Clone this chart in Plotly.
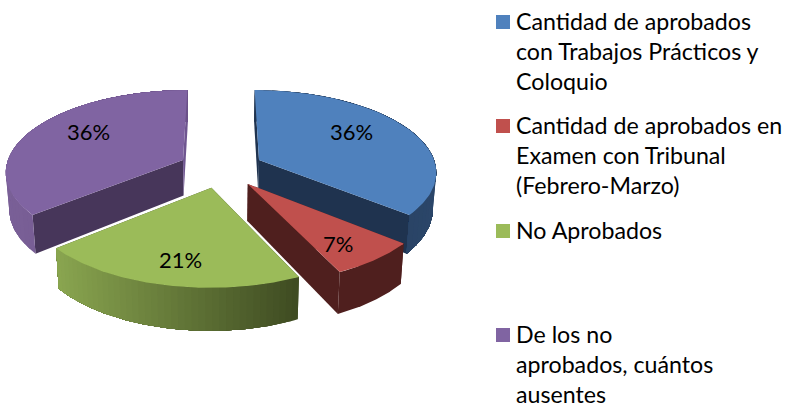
import numpy as np
import plotly.graph_objects as go

# data
categories = ["Cantidad de aprobados<br>con Trabajos Prácticos y<br>Coloquio",
              "Cantidad de aprobados en<br>Examen con Tribunal<br>(Febrero-Marzo)",
              "No Aprobados",
              "De los no<br>aprobados, cuántos<br>ausentes"]
values = [36, 7, 21, 36]
top_colors = ["#4F81BD", "#C0504D", "#9BBB59", "#8064A2"]
face_colors = ["#1F334F", "#4F1F1E", "#3F4C22", "#47365A"]

# projection settings (pixel space of the picture)
VX, VY, D, RAD, EXPL, H, Q, CY = 221.0, -448.0, 1346.0, 175.0, 42.0, 35.5, 0.016, 160.0
OFF_Y = 17.9  # pie centre sits slightly in front of the reference plane


def proj(X, Y, bottom=False):
    X, Y = np.asarray(X, float), np.asarray(Y, float)
    s = D / (D + Y)
    x = VX + X * s
    y = VY + (CY - VY) * s
    if bottom:
        x = VX + (x - VX) * (1 - Q)
        y = y + H * s
    return x, y


def hexmix(a, b, t):
    ca = [int(a[i:i + 2], 16) for i in (1, 3, 5)]
    cb = [int(b[i:i + 2], 16) for i in (1, 3, 5)]
    return "rgb(%d,%d,%d)" % tuple(round(p + (q - p) * t) for p, q in zip(ca, cb))


def poly(fig, x, y, color):
    fig.add_trace(go.Scatter(x=list(x), y=list(y), mode="lines", fill="toself",
                             fillcolor=color, line=dict(color=color, width=0),
                             hoverinfo="skip", showlegend=False))


fig = go.Figure()
fracs = np.cumsum([0] + values) / sum(values)
side_ramps = {0: ("#2B4669", "#1F334F"), 1: ("#4F1F1E", "#4F1F1E"),
              2: ("#3F4C22", "#8AA650"), 3: ("#6A5088", "#7A6097")}
order = [3, 0, 1, 2]
for i in order:
    a0, a1 = 2 * np.pi * fracs[i], 2 * np.pi * fracs[i + 1]
    mid = (a0 + a1) / 2
    ax, ay = EXPL * np.sin(mid), EXPL * np.cos(mid) - OFF_Y
    th = np.linspace(a0, a1, 121)
    ex, ey = ax + RAD * np.sin(th), ay + RAD * np.cos(th)

    # radial faces
    for k, idx in enumerate((0, -1)):
        tx, ty = proj([ax, ex[idx]], [ay, ey[idx]])
        bx, by = proj([ax, ex[idx]], [ay, ey[idx]], bottom=True)
        col = face_colors[i]
        if i == 3 and k == 1:
            col = "#6F5690"
        poly(fig, [tx[0], tx[1], bx[1], bx[0]], [ty[0], ty[1], by[1], by[0]], col)

    # outer wall: overlapping painter strips give a seamless gradient
    tx, ty = proj(ex, ey)
    bx, by = proj(ex, ey, bottom=True)
    xmin, xmax = tx.min(), tx.max()
    c_right, c_left = side_ramps[i]
    if c_right == c_left:
        poly(fig, np.r_[tx, bx[::-1]], np.r_[ty, by[::-1]], c_left)
    else:
        for j in range(0, len(th) - 1, 3):
            t = (tx[j] - xmin) / max(xmax - xmin, 1)
            poly(fig, np.r_[tx[j:], bx[j:][::-1]], np.r_[ty[j:], by[j:][::-1]],
                 hexmix(c_left, c_right, t))

    # top
    px, py = proj(np.r_[ax, ex], np.r_[ay, ey])
    poly(fig, px, py, top_colors[i])

FONT = "Lato"
# percent labels
pct_pos = [(351, 131), (338, 243), (180, 259), (88, 131)]
annotations = []
for v, (lx, ly) in zip(values, pct_pos):
    annotations.append(dict(x=lx, y=ly, text=f"{v}%", showarrow=False, xanchor="center",
                            yanchor="middle", font=dict(family=FONT, size=22, color="#000000")))

# legend
swatch_y = [22, 126, 231, 335]
shapes = []
for cat, col, sy in zip(categories, top_colors, swatch_y):
    shapes.append(dict(type="rect", xref="x", yref="y", x0=496, x1=510, y0=sy - 7, y1=sy + 7,
                       fillcolor=col, line=dict(width=0)))
    annotations.append(dict(x=514, y=sy - 17, text=cat, showarrow=False, xanchor="left",
                            yanchor="top", align="left",
                            font=dict(family=FONT, size=23.2, color="#000000")))

fig.update_layout(width=786, height=407, margin=dict(l=0, r=0, t=0, b=0),
                  paper_bgcolor="white", plot_bgcolor="white", showlegend=False,
                  xaxis=dict(range=[0, 786], visible=False, fixedrange=True),
                  yaxis=dict(range=[407, 0], visible=False, fixedrange=True),
                  annotations=annotations, shapes=shapes)
fig.write_html("out.html", config={"displayModeBar": False},
               post_script="document.body.style.margin='0';document.body.style.overflow='hidden';"
                           "document.body.style.fontVariantLigatures='none';")
